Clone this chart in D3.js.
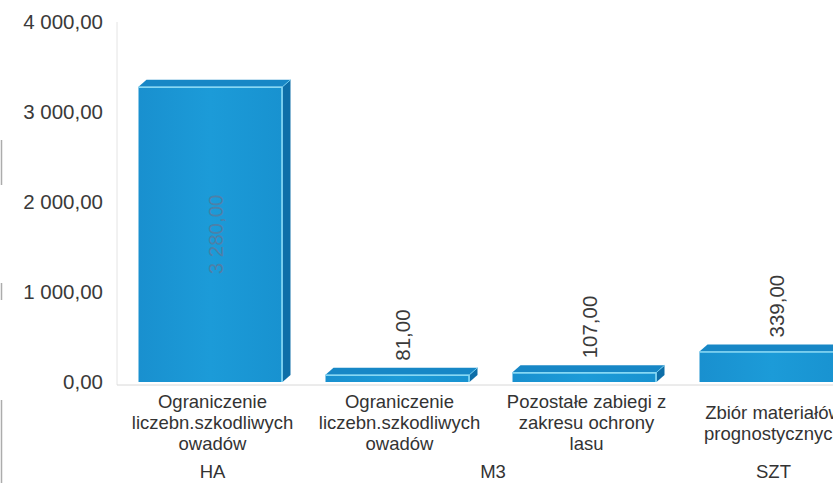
<!DOCTYPE html>
<html>
<head>
<meta charset="utf-8">
<script src="https://cdn.jsdelivr.net/npm/d3@7"></script>
<style>
  body { margin: 0; background: #fff; }
  svg text { font-family: Arial, "Liberation Sans", sans-serif; }
</style>
</head>
<body>
<div id="chart"></div>
<script>
// chart data
var categories = [
  ["Ograniczenie", "liczebn.szkodliwych", "owadów"],
  ["Ograniczenie", "liczebn.szkodliwych", "owadów"],
  ["Pozostałe zabiegi z", "zakresu ochrony", "lasu"],
  ["Zbiór materiałów", "prognostycznych"]
];
var units = ["HA", "M3", "M3", "SZT"];
var values = [3280, 81, 107, 339];
var yTicks = [0, 1000, 2000, 3000, 4000];

var svgWidth = 833;
var svgHeight = 483;

// plot area (runs off the right edge, like the cropped original)
var plotLeft = 117;
var plotBottom = 382;
var plotTop = 22;
var step = 187;

var svg = d3.select("#chart")
  .append("svg")
  .attr("width", svgWidth)
  .attr("height", svgHeight);

// polish number format: "3 000,00"
var pl = d3.formatLocale({ decimal: ",", thousands: " ", grouping: [3], currency: ["", " zł"] });
var fmt = pl.format(",.2f");

var x = d3.scaleBand()
  .domain(d3.range(values.length))
  .range([plotLeft, plotLeft + step * values.length])
  .paddingInner(0.23)
  .paddingOuter(0.115);

var y = d3.scaleLinear()
  .domain([0, 4000])
  .range([plotBottom, plotTop]);

// 3d offsets
var dx = 8, dy = 7;

var defs = svg.append("defs");
var grad = defs.append("linearGradient").attr("id", "front")
  .attr("x1", 0).attr("y1", 0).attr("x2", 1).attr("y2", 0);
grad.append("stop").attr("offset", "0%").attr("stop-color", "#1990cf");
grad.append("stop").attr("offset", "50%").attr("stop-color", "#1c9bd8");
grad.append("stop").attr("offset", "100%").attr("stop-color", "#1892d0");

// plot area border lines
svg.append("line")
  .attr("x1", plotLeft).attr("x2", plotLeft)
  .attr("y1", plotTop).attr("y2", plotBottom + 3)
  .attr("stroke", "#e4e4e4").attr("stroke-width", 1);
svg.append("line")
  .attr("x1", plotLeft).attr("x2", svgWidth)
  .attr("y1", plotBottom + 3).attr("y2", plotBottom + 3)
  .attr("stroke", "#d8d8d8").attr("stroke-width", 1);

// scan marks on the left edge
[[140, 185], [283, 300], [400, 483]].forEach(function(m) {
  svg.append("line")
    .attr("x1", 1.5).attr("x2", 1.5)
    .attr("y1", m[0]).attr("y2", m[1])
    .attr("stroke", "#8a8a8a").attr("stroke-width", 1.5)
    .attr("opacity", 0.7);
});

// y axis
var leftAxis = d3.axisLeft(y)
  .tickValues(yTicks)
  .tickFormat(fmt)
  .tickSize(0)
  .tickPadding(14);

var yAxis = svg.append("g")
  .attr("transform", `translate(${plotLeft}, 0)`)
  .call(leftAxis);
yAxis.select(".domain").remove();
yAxis.selectAll("text")
  .attr("font-size", 20.5)
  .attr("font-family", "Arial, 'Liberation Sans', sans-serif")
  .attr("fill", "#3a3a3a");

// bars
var bars = svg.selectAll(".bar")
  .data(values)
  .enter()
  .append("g")
  .attr("class", "bar");

var bw = x.bandwidth();

// top face
bars.append("polygon")
  .attr("points", function(d, i) {
    var x0 = x(i), y0 = y(d);
    return [[x0, y0], [x0 + dx, y0 - dy], [x0 + bw + dx, y0 - dy], [x0 + bw, y0]].join(" ");
  })
  .attr("fill", "#1787c6");

// side face
bars.append("polygon")
  .attr("points", function(d, i) {
    var x0 = x(i) + bw, y0 = y(d);
    return [[x0, y0], [x0 + dx, y0 - dy], [x0 + dx, plotBottom - dy], [x0, plotBottom]].join(" ");
  })
  .attr("fill", "#0d6ea8");

// front face
bars.append("rect")
  .attr("x", (d, i) => x(i))
  .attr("y", d => y(d))
  .attr("width", bw)
  .attr("height", d => plotBottom - y(d))
  .attr("fill", "url(#front)");

// highlight edges
bars.append("path")
  .attr("d", function(d, i) {
    var x0 = x(i), y0 = y(d);
    return `M${x0},${y0 + 0.5}H${x0 + bw - 0.5}V${plotBottom}`;
  })
  .attr("fill", "none")
  .attr("stroke", "#86d8f4")
  .attr("stroke-width", 1.6);
bars.append("path")
  .attr("d", function(d, i) {
    var x0 = x(i), y0 = y(d);
    return `M${x0 + bw},${y0}L${x0 + bw + dx},${y0 - dy}`;
  })
  .attr("fill", "none")
  .attr("stroke", "#6cc9ee")
  .attr("stroke-width", 1);

// data labels (rotated); inside the bar when there is no room above it
bars.append("text")
  .attr("transform", function(d, i) {
    var cx = x(i) + bw / 2 + 5;
    var inside = y(d) - dy - 80 < plotTop;
    var cy = inside ? (y(d) + plotBottom) / 2 : y(d) - dy - 7;
    return `translate(${cx}, ${cy}) rotate(-90)`;
  })
  .attr("text-anchor", d => (y(d) - dy - 80 < plotTop) ? "middle" : "start")
  .attr("dy", "0.35em")
  .attr("font-size", 20.5)
  .attr("fill", d => (y(d) - dy - 80 < plotTop) ? "#4d80a8" : "#3a3a3a")
  .text(d => fmt(d));

// category labels
var lineH = 21;
var catLabels = svg.selectAll(".cat")
  .data(categories)
  .enter()
  .append("text")
  .attr("class", "cat")
  .attr("text-anchor", "middle")
  .attr("font-size", 18.5)
  .attr("fill", "#333");

catLabels.selectAll("tspan")
  .data(function(lines, i) { return lines.map(l => ({ t: l, i: i, n: lines.length })); })
  .enter()
  .append("tspan")
  .attr("x", d => x(d.i) + bw / 2 + 2)
  .attr("y", (d, j) => 423 + (j - (d.n - 1) / 2) * lineH)
  .attr("dy", "0.35em")
  .text(d => d.t);

// unit group labels, centred under their categories
var unitGroups = [];
units.forEach(function(u, i) {
  var last = unitGroups[unitGroups.length - 1];
  if (last && last.unit === u) last.end = i;
  else unitGroups.push({ unit: u, start: i, end: i });
});

svg.selectAll(".unit")
  .data(unitGroups)
  .enter()
  .append("text")
  .attr("class", "unit")
  .attr("x", d => (x(d.start) + x(d.end)) / 2 + bw / 2 + 2)
  .attr("y", 472)
  .attr("dy", "0.35em")
  .attr("text-anchor", "middle")
  .attr("font-size", 18.5)
  .attr("fill", "#333")
  .text(d => d.unit);
</script>
</body>
</html>
